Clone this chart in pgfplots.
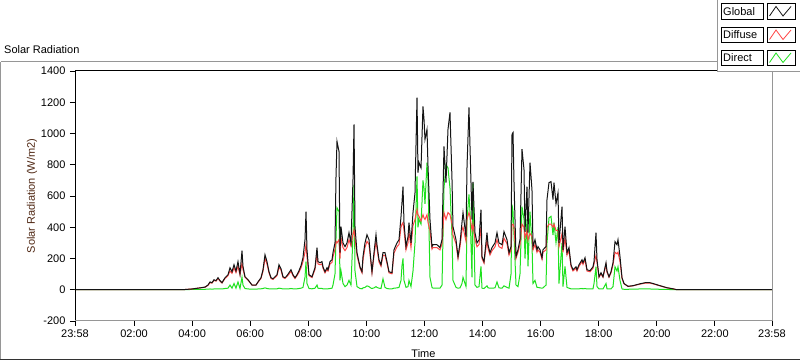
\documentclass[border=0pt]{standalone}
\usepackage{pgfplots}
\pgfplotsset{compat=1.18}
\usepackage{pgfplotstable}
\usepackage{fontspec}
\setmainfont{Liberation Sans}
\definecolor{gline}{RGB}{20,20,20}
\definecolor{dline}{RGB}{255,70,70}
\definecolor{bline}{RGB}{30,225,30}
\definecolor{framegrey}{RGB}{150,150,150}
\definecolor{ylab}{RGB}{80,40,20}

\pgfplotstableread{
t G D B
-0.0333 0 0 0
3.651 0 0 0
3.995 5 5 2
4.271 12 12 3
4.443 17 16 3
4.546 30 28 4
4.615 50 45 5
4.684 45 42 4
4.753 64 60 5
4.822 58 55 5
4.891 77 72 6
4.960 58 55 5
5.028 45 43 5
5.132 77 72 8
5.235 96 90 10
5.304 141 120 30
5.373 115 105 10
5.442 160 140 40
5.510 120 110 10
5.579 180 150 50
5.648 100 95 8
5.717 250 170 80
5.751 150 130 30
5.820 83 80 8
5.924 64 62 5
6.061 30 30 4
6.199 30 30 4
6.268 50 48 5
6.371 77 72 6
6.440 128 118 8
6.509 224 200 12
6.578 180 165 8
6.647 115 108 6
6.716 77 72 5
6.784 70 66 5
6.853 83 78 6
6.922 96 90 6
6.991 160 145 10
7.060 135 125 8
7.129 83 78 5
7.198 77 72 5
7.267 90 85 5
7.335 109 100 6
7.404 128 118 8
7.473 96 90 6
7.542 77 72 5
7.611 96 90 6
7.680 122 112 8
7.749 154 140 10
7.817 205 180 15
7.886 320 240 80
7.921 500 290 180
7.955 256 210 40
8.024 96 90 8
8.127 83 78 6
8.231 141 130 10
8.300 270 230 30
8.334 180 165 10
8.403 173 160 8
8.472 180 165 8
8.506 147 138 6
8.575 115 108 6
8.644 141 130 6
8.678 128 120 6
8.747 180 165 8
8.816 192 175 10
8.850 237 210 30
8.919 300 260 100
8.954 725 310 330
8.988 950 300 525
9.057 885 320 500
9.091 237 200 60
9.126 404 330 120
9.195 300 270 40
9.264 276 250 20
9.332 300 270 30
9.401 365 320 60
9.470 300 280 30
9.539 705 360 350
9.574 1058 385 673
9.608 404 330 120
9.677 237 220 20
9.780 147 138 8
9.849 115 108 6
9.883 212 190 12
9.952 300 270 15
10.021 352 310 25
10.090 320 290 20
10.159 180 168 10
10.193 115 108 8
10.262 237 215 12
10.331 352 310 20
10.365 288 265 15
10.434 192 178 10
10.503 160 150 8
10.572 237 220 70
10.641 237 220 15
10.710 180 168 8
10.779 115 108 6
10.882 109 102 6
10.951 256 235 10
11.054 300 275 12
11.123 320 290 15
11.192 468 400 60
11.226 560 420 154
11.261 660 430 200
11.295 430 380 60
11.364 276 255 15
11.433 340 300 20
11.467 430 370 60
11.536 300 270 20
11.605 494 410 120
11.674 620 450 300
11.743 1230 513 725
11.777 750 480 400
11.812 814 470 450
11.881 780 440 420
11.949 1173 480 700
11.984 1090 460 650
12.018 962 450 550
12.087 1026 480 814
12.122 790 430 700
12.190 449 380 80
12.259 276 260 15
12.294 288 270 10
12.431 288 270 10
12.535 270 255 10
12.604 320 295 30
12.672 917 494 650
12.741 686 450 800
12.810 1026 494 780
12.879 1135 480 650
12.948 705 420 350
12.982 404 350 60
13.086 320 295 15
13.155 212 200 10
13.224 300 275 12
13.292 430 380 40
13.327 494 400 80
13.430 340 310 20
13.465 789 450 450
13.533 1167 494 610
13.568 917 470 500
13.637 449 380 80
13.671 690 420 680
13.740 365 320 30
13.809 300 275 15
13.878 320 290 20
13.946 513 400 150
13.981 212 200 10
14.050 180 170 8
14.153 365 320 25
14.188 288 265 12
14.256 237 222 10
14.325 270 250 10
14.429 300 275 12
14.497 365 320 50
14.566 300 275 12
14.670 288 265 10
14.738 372 330 25
14.842 320 295 15
14.911 237 222 10
14.980 276 255 100
15.014 994 417 545
15.049 1006 420 500
15.083 686 400 350
15.152 212 200 30
15.220 256 240 20
15.289 320 290 100
15.358 900 420 532
15.427 770 400 450
15.462 370 330 200
15.530 660 380 450
15.565 365 320 150
15.634 814 360 500
15.702 640 340 300
15.737 276 255 40
15.806 320 290 60
15.875 256 240 15
15.909 276 255 15
15.978 256 240 12
16.047 205 195 10
16.081 256 240 12
16.185 276 255 30
16.219 577 400 300
16.288 686 420 460
16.357 692 420 470
16.426 577 400 350
16.460 686 420 430
16.529 550 380 300
16.598 620 380 400
16.632 300 275 40
16.736 532 360 300
16.770 256 240 20
16.839 404 330 150
16.908 237 222 15
16.977 270 250 10
17.045 160 150 6
17.114 128 120 5
17.218 147 138 5
17.252 128 120 5
17.321 160 150 6
17.424 192 180 8
17.459 173 162 6
17.528 205 192 8
17.596 128 120 5
17.700 122 115 5
17.803 147 138 6
17.838 180 165 40
17.906 365 220 147
17.941 192 175 20
18.010 83 80 5
18.078 109 102 5
18.147 83 80 5
18.251 173 160 40
18.285 120 112 6
18.354 83 80 5
18.423 115 108 6
18.492 173 160 20
18.561 308 240 147
18.629 288 230 120
18.664 320 240 147
18.733 212 180 60
18.802 77 72 5
18.871 40 38 3
19.008 22 21 3
19.180 26 25 4
19.421 38 36 5
19.594 45 42 6
19.766 45 42 5
19.869 40 38 4
20.110 26 25 3
20.351 13 12 2
20.558 6 6 1
20.695 0 0 0
23.9667 0 0 0
}\solardata

\begin{document}
\begin{tikzpicture}[font=\fontsize{11}{13}\selectfont]
\begin{axis}[
  name=ax,
  at={(0,0)}, anchor=south west,
  width=697pt, height=250pt, scale only axis,
  xmin=-0.0333, xmax=23.9667,
  ymin=-200, ymax=1400,
  xtick={-0.0333,2,4,6,8,10,12,14,16,18,20,22,23.9667},
  xticklabels={23:58,02:00,04:00,06:00,08:00,10:00,12:00,14:00,16:00,18:00,20:00,22:00,23:58},
  minor x tick num=5,
  ytick={-200,0,200,400,600,800,1000,1200,1400},
  xtick pos=bottom, ytick pos=left,
  tick align=outside,
  major tick length=5pt, minor tick length=3pt,
  tick style={black, line width=0.8pt},
  axis line style={draw=none},
  /pgf/number format/assume math mode=true,
  /pgf/number format/1000 sep={},
  ticklabel style={font=\fontsize{11}{13}\selectfont},
  yticklabel style={xshift=-1pt},
  xlabel={Time},
  xlabel style={at={(axis description cs:0.5,-0.132)}, anchor=center},
  ylabel={Solar Radiation (W/m2)},
  ylabel style={at={(axis description cs:-0.0617,0.5)}, anchor=center, text=ylab},
  clip=false,
]
\addplot[bline, line width=1pt] table[x=t,y=B]{\solardata};
\addplot[dline, line width=1pt] table[x=t,y=D]{\solardata};
\addplot[gline, line width=1pt] table[x=t,y=G]{\solardata};
\end{axis}
% plot frame
\draw[black,line width=1pt] (ax.south west) -- (ax.north west) -- (ax.north east);
\draw[framegrey,line width=1pt] (ax.south west) -- (ax.south east) -- (ax.north east);

\begin{scope}[shift={(ax.south west)}, xshift=-75pt, yshift=-40pt, x=1pt, y=1pt]
\useasboundingbox (0,0) rectangle (800,361);
% outer frame
\draw[framegrey,line width=1pt] (1,299) -- (1,1.5);
\draw[framegrey,line width=1pt] (1,299) -- (717,299);
\draw[black!80,line width=1pt] (0,1.5) -- (800,1.5);
\node[anchor=west,inner sep=0pt] at (4,311) {Solar Radiation};
% legend panel
\fill[white] (717,289) rectangle (800,361);
\draw[framegrey,line width=1pt] (717,361) -- (717,289) -- (800,289);
\foreach \yy/\lab/\col in {342/Global/gline, 318.5/Diffuse/dline, 295.5/Direct/bline}{
  \draw[black,line width=0.8pt] (721,\yy) rectangle (763,\yy+15.5);
  \node[anchor=west,inner sep=0pt] at (723,\yy+7.75) {\lab};
  \draw[black,line width=0.8pt] (767,\yy) rectangle (795,\yy+15.5);
  \draw[\col,line width=0.8pt] (769.5,\yy+3) -- (776,\yy+12.5) -- (783,\yy+3) -- (791,\yy+12.5);
}
\end{scope}
\end{tikzpicture}
\end{document}
